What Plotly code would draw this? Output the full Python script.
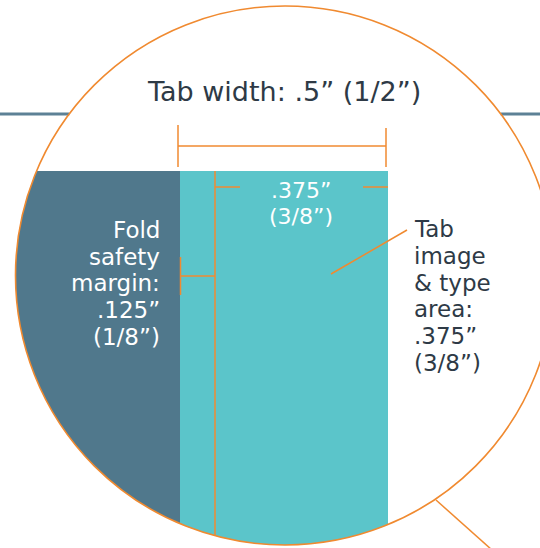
import numpy as np
import plotly.graph_objects as go

# ---- data (labels / measurements) ----
title_label = ["Tab width: .5” (1/2”)"]
margin_label = ["Fold", "safety", "margin:", ".125”", "(1/8”)"]
area_top_label = [".375”", "(3/8”)"]
area_label = ["Tab", "image", "& type", "area:", ".375”", "(3/8”)"]
measures_in = {"tab": 0.5, "margin": 0.125, "area": 0.375}

W, H = 540, 548
ORANGE = "#f08a30"
DARK = "#50788c"
TEAL = "#5bc5ca"
TXT = "#2e3a46"
LINEBLUE = "#5d8196"

cx, cy, r = 285.0, 275.5, 269.5


def ybot(x):
    return cy + np.sqrt(r ** 2 - (x - cx) ** 2)


def xleft(y):
    return cx - np.sqrt(r ** 2 - (y - cy) ** 2)


def xright(y):
    return cx + np.sqrt(r ** 2 - (y - cy) ** 2)


def to_path(pts):
    return "M " + " L ".join(f"{x:.2f},{y:.2f}" for x, y in pts) + " Z"


tab_l, tab_r, top = 180.0, 388.0, 171.0
teal_pts = [(tab_l, top), (tab_r, top)]
for x in np.linspace(tab_r, tab_l, 80):
    teal_pts.append((x, ybot(x)))
th_a = np.arctan2(ybot(tab_l) - cy, tab_l - cx)
th_b = np.arctan2(top - cy, xleft(top) - cx) + 2 * np.pi
dark_pts = [(tab_l, top)]
for th in np.linspace(th_a, th_b, 120):
    dark_pts.append((cx + r * np.cos(th), cy + r * np.sin(th)))

shapes = []
shapes.append(dict(type="path", path=to_path(dark_pts), fillcolor=DARK, line=dict(width=0)))
shapes.append(dict(type="path", path=to_path(teal_pts), fillcolor=TEAL, line=dict(width=0)))


def seg(x0, y0, x1, y1, color=ORANGE, w=1.5):
    shapes.append(dict(type="line", x0=x0, y0=y0, x1=x1, y1=y1, line=dict(color=color, width=w)))


seg(0, 114, xleft(114), 114, LINEBLUE, 3)
seg(xright(114), 114, W, 114, LINEBLUE, 3)
shapes.append(dict(type="circle", x0=cx - r, x1=cx + r, y0=cy - r, y1=cy + r,
                   line=dict(color=ORANGE, width=1.6)))
seg(178, 125, 178, 167)
seg(386, 128, 386, 167)
seg(178, 146, 386, 146)
seg(215, top, 215, ybot(215))
seg(215, 187, 240, 187)
seg(363, 187, 388, 187)
seg(180.5, 257, 180.5, 295)
seg(180, 276, 215, 276)
seg(407, 230, 331, 274)
seg(436, 500, 492, 550)

fig = go.Figure()
fig.add_trace(go.Scatter(x=[331], y=[274], mode="markers",
                         marker=dict(color=ORANGE, size=6), hoverinfo="skip"))

FONT = "DejaVu Sans"
ann = [dict(x=284, y=91, text=title_label[0], font=dict(size=27, color=TXT, family=FONT),
            xanchor="center", yanchor="middle")]
for i, t in enumerate(margin_label):
    ann.append(dict(x=162, y=230 + i * 26.7, text=t, font=dict(size=23, color="white", family=FONT),
                    xanchor="right", yanchor="middle"))
for i, t in enumerate(area_top_label):
    ann.append(dict(x=301, y=190 + i * 26, text=t, font=dict(size=22, color="white", family=FONT),
                    xanchor="center", yanchor="middle"))
for i, t in enumerate(area_label):
    ann.append(dict(x=412, y=229 + i * 26.8, text=t, font=dict(size=23, color=TXT, family=FONT),
                    xanchor="left", yanchor="middle"))
for a in ann:
    a.update(xref="x", yref="y", showarrow=False)

fig.update_layout(
    width=W, height=H, margin=dict(l=0, r=0, t=0, b=0),
    paper_bgcolor="white", plot_bgcolor="white", hovermode=False,
    xaxis=dict(range=[0, W], visible=False, fixedrange=True),
    yaxis=dict(range=[H, 0], visible=False, fixedrange=True),
    shapes=shapes, annotations=ann, showlegend=False,
)
fig.write_html("out.html", config={"displayModeBar": False},
               post_script="document.body.style.margin='0';")
